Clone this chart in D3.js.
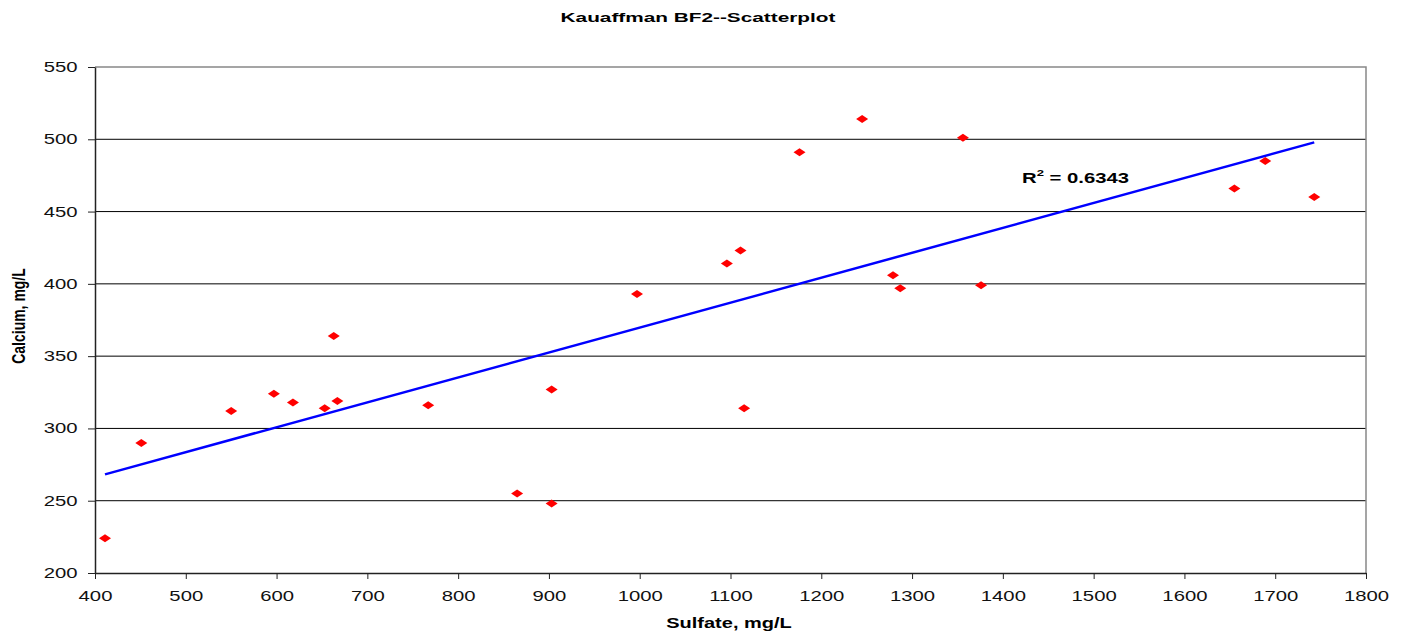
<!DOCTYPE html>
<html>
<head>
<meta charset="utf-8">
<script src="https://cdn.jsdelivr.net/npm/d3@7"></script>
<style>
  body { margin: 0; background: #fff; }
  text { font-family: "Liberation Sans", Arial, sans-serif; }
</style>
</head>
<body>
<svg class="MainSvg"></svg>
<script>
    // sulfate / calcium pairs
    var sulfate = [411, 451, 550, 597, 618, 653, 667, 663, 767, 865, 903, 903, 997,
        1096, 1111, 1115, 1176, 1245, 1279, 1287, 1356, 1376, 1655, 1689, 1743];
    var calcium = [224, 290, 312, 324, 318, 314, 319, 364, 316, 255, 327, 248, 393,
        414, 423, 314, 491, 514, 406, 397, 501, 399, 466, 485, 460];
    var xTicks = [400, 500, 600, 700, 800, 900, 1000, 1100, 1200, 1300, 1400, 1500, 1600, 1700, 1800];
    var yTicks = [200, 250, 300, 350, 400, 450, 500, 550];
    var rSquared = "0.6343";

    var W = 1401, H = 634;
    var margin = { top: 67, right: 35, bottom: 61, left: 95 };
    var width = W - margin.left - margin.right,
        height = H - margin.top - margin.bottom;
    var stretch = 1.45; // the original text is drawn wide

    var data = sulfate.map(function (s, i) { return { x: s, y: calcium[i] }; });

    var xScale = d3.scaleLinear().domain([400, 1800]).range([0, width]);
    var yScale = d3.scaleLinear().domain([200, 550]).range([height, 0]);

    var svg = d3.select(".MainSvg")
        .attr("width", W)
        .attr("height", H);

    function wideText(parent, x, y, sx, size, anchor) {
        return parent.append("text")
            .attr("transform", "translate(" + x + "," + y + ") scale(" + sx + ",1)")
            .attr("text-anchor", anchor)
            .style("font-weight", "bold").style("font-size", size + "px");
    }

    wideText(svg, 698, 22, 1.6, 13, "middle").text("Kauaffman BF2--Scatterplot");

    var g = svg.append("g")
        .attr("transform", "translate(" + margin.left + "," + margin.top + ")");

    // gridlines
    g.selectAll(".grid").data(yTicks.slice(1, -1)).enter()
        .append("line")
        .attr("x1", 0).attr("x2", width)
        .attr("y1", function (d) { return yScale(d); })
        .attr("y2", function (d) { return yScale(d); })
        .attr("stroke", "#000").attr("stroke-width", 1);

    // top/right border
    g.append("path")
        .attr("d", "M0," + yScale(550) + "H" + width + "V" + height)
        .attr("fill", "none").attr("stroke", "#888").attr("stroke-width", 1.5);

    var fmt = d3.format("d");
    var xAxis = d3.axisBottom(xScale).tickValues(xTicks).tickFormat(fmt).tickSize(6).tickSizeOuter(0).tickPadding(12);
    var yAxis = d3.axisLeft(yScale).tickValues(yTicks).tickFormat(fmt).tickSize(7).tickSizeOuter(0).tickPadding(5);

    var gx = g.append("g").attr("transform", "translate(0," + height + ")").call(xAxis);
    var gy = g.append("g").call(yAxis);
    [gx, gy].forEach(function (a) {
        a.select(".domain").attr("stroke", "#222").attr("stroke-width", 1.5);
        a.selectAll(".tick line").attr("stroke", "#222");
        a.selectAll(".tick text")
            .attr("transform", "scale(" + stretch + ",1)")
            .style("font-size", "14px").attr("fill", "#111")
            .style("font-family", "'Liberation Sans', Arial, sans-serif");
    });

    // linear trendline (least squares)
    var mx = d3.mean(sulfate), my = d3.mean(calcium);
    var sxy = d3.sum(data, function (d) { return (d.x - mx) * (d.y - my); });
    var sxx = d3.sum(data, function (d) { return (d.x - mx) * (d.x - mx); });
    var slope = sxy / sxx, icpt = my - slope * mx;
    var xs = d3.extent(sulfate);
    g.append("line")
        .attr("x1", xScale(xs[0])).attr("y1", yScale(icpt + slope * xs[0]))
        .attr("x2", xScale(xs[1])).attr("y2", yScale(icpt + slope * xs[1]))
        .attr("stroke", "#0000ff").attr("stroke-width", 2.5);

    // diamonds
    g.selectAll(".pt").data(data).enter()
        .append("path")
        .attr("d", "M-6,0L0,-4L6,0L0,4Z")
        .attr("transform", function (d) { return "translate(" + xScale(d.x) + "," + yScale(d.y) + ")"; })
        .attr("fill", "#ff0000");

    // R² label
    var rt = wideText(g, 927, 116, stretch, 14, "start");
    rt.append("tspan").text("R");
    rt.append("tspan").attr("dy", -7).style("font-size", "9px").text("2");
    rt.append("tspan").attr("dy", 7).text(" = " + rSquared);

    wideText(svg, 729, 628, 1.43, 14, "middle").text("Sulfate, mg/L");

    svg.append("text")
        .attr("transform", "translate(25,316) scale(1.3,1) rotate(-90)")
        .attr("text-anchor", "middle")
        .style("font-weight", "bold").style("font-size", "14px")
        .text("Calcium, mg/L");
</script>
</body>
</html>
